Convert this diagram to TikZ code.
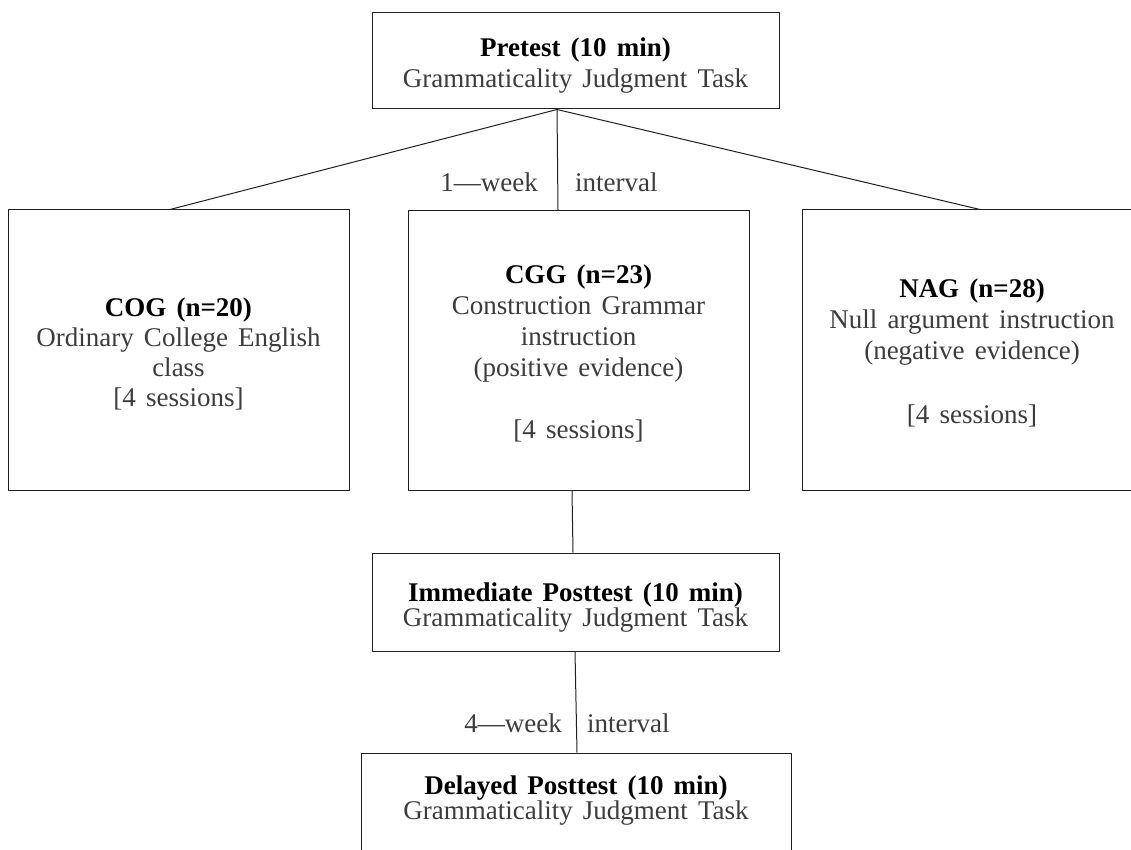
\documentclass[tikz,border=0pt]{standalone}
\usepackage{fontspec}
\setmainfont{Liberation Serif}[WordSpace=1.5]
\usetikzlibrary{calc}
\definecolor{txt}{HTML}{3C3C3C}
\definecolor{edge}{HTML}{202020}
\begin{document}
\begin{tikzpicture}[x=1pt,y=-1pt,
  box/.style={draw=edge, line width=1pt, inner sep=0pt},
  body/.style={inner sep=0pt, align=center, text=txt},
  conn/.style={draw=edge, line width=1pt},
  lbl/.style={inner sep=0pt, text=txt, font=\fontsize{27}{31}\selectfont},
  fA/.style={font=\fontsize{27}{31}\selectfont},
  fC/.style={font=\fontsize{27}{30}\selectfont},
  fB/.style={font=\fontsize{27}{25}\selectfont}]
\useasboundingbox (0,0) rectangle (1131,850);
\clip (0,0) rectangle (1131,850);
\fill[white] (0,0) rectangle (1131,850);

% boxes
\node[box, minimum width=407pt, minimum height=96pt] (pre) at (575.5,61) {};
\node[box, minimum width=341pt, minimum height=280pt] (cog) at (178.5,350) {};
\node[box, minimum width=341pt, minimum height=280pt] (cgg) at (578.5,350.5) {};
\node[box, minimum width=340pt, minimum height=280pt] (nag) at (972,350) {};
\node[box, minimum width=407pt, minimum height=98pt] (imm) at (575.5,602) {};
\node[box, minimum width=430pt, minimum height=98pt] (del) at (576,802) {};

% box texts
\node[body, fA] (pretx) at ($(pre.center)+(0,5)$)
  {\textcolor{black}{\textbf{Pretest (10 min)}}\\Grammaticality Judgment Task};
\node[body, fC] (cogtx) at ($(cog.center)+(0,3.5)$)
  {\textcolor{black}{\textbf{COG (n=20)}}\\Ordinary College English\\class\\{}[4 sessions]};
\node[body, fA] (cggtx) at ($(cgg.center)+(0,2.5)$)
  {\textcolor{black}{\textbf{CGG (n=23)}}\\Construction Grammar\\instruction\\(positive evidence)\\[31pt][4 sessions]};
\node[body, fA] (nagtx) at ($(nag.center)+(0,3)$)
  {\textcolor{black}{\textbf{NAG (n=28)}}\\Null argument instruction\\(negative evidence)\\[33pt][4 sessions]};
\node[body, fB] (immtx) at ($(imm.center)+(0,6)$)
  {\textcolor{black}{\textbf{Immediate Posttest (10 min)}}\\Grammaticality Judgment Task};
\node[body, fB] (deltx) at ($(del.center)+(0,-1)$)
  {\textcolor{black}{\textbf{Delayed Posttest (10 min)}}\\Grammaticality Judgment Task};

% connector ends
\coordinate (pb) at ($(pre.south)+(-18.5,0)$);
\coordinate (cogt) at ($(cog.north)+(-8.5,0)$);
\coordinate (cggt) at ($(cgg.north)+(-20.5,0)$);
\coordinate (nagt) at ($(nag.north)+(8,0)$);
\coordinate (cggb) at ($(cgg.south)+(-6.5,0)$);
\coordinate (immt) at ($(imm.north)+(-2.5,0)$);
\coordinate (immb) at ($(imm.south)+(-0.5,0)$);
\coordinate (delt) at ($(del.north)+(1,0)$);

\draw[conn] (pb) -- (cogt);
\draw[conn] (pb) -- (cggt);
\draw[conn] (pb) -- (nagt);
\draw[conn] (cggb) -- (immt);
\draw[conn] (immb) -- (delt);

\node[lbl, anchor=base east] (w1a) at (538,192) {1—week};
\node[lbl, anchor=base west] (w1b) at (575,192) {interval};
\node[lbl, anchor=base east] (w4a) at (562,732) {4—week};
\node[lbl, anchor=base west] (w4b) at (587,732) {interval};
\end{tikzpicture}
\end{document}
